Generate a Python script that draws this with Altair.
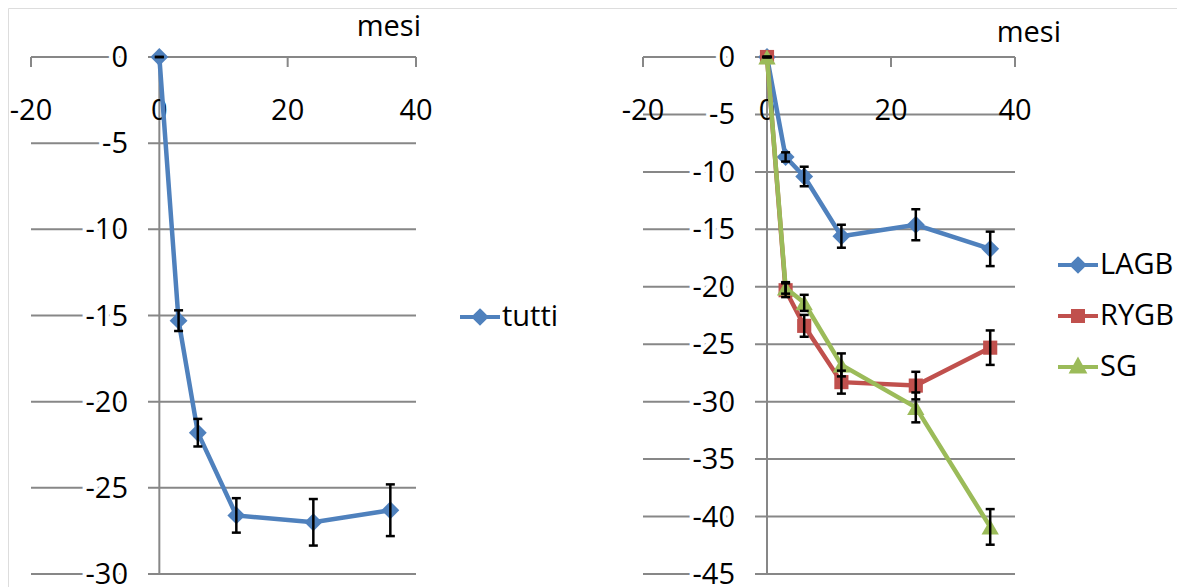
import altair as alt
import pandas as pd

# ---------------- data ----------------
mesi = [0, 3, 6, 12, 24, 36]

tutti = [0, -15.3, -21.8, -26.6, -27.0, -26.3]
tutti_err = [0, 0.6, 0.8, 1.0, 1.35, 1.5]

serie_names = ["LAGB", "RYGB", "SG"]
lagb = [0, -8.7, -10.4, -15.6, -14.6, -16.7]
lagb_err = [0, 0.4, 0.85, 1.0, 1.35, 1.5]
rygb = [0, -20.3, -23.4, -28.3, -28.6, -25.3]
rygb_err = [0, 0.6, 0.95, 1.0, 1.2, 1.5]
sg = [0, -20.1, -21.4, -26.8, -30.5, -40.9]
sg_err = [0, 0.5, 0.7, 1.0, 1.3, 1.55]

x_ticks = [-20, 0, 20, 40]
y_ticks_left = [0, -5, -10, -15, -20, -25, -30]
y_ticks_right = [0, -5, -10, -15, -20, -25, -30, -35, -40, -45]

BLUE, RED, GREEN = "#4F81BD", "#C0504D", "#9BBB59"
GRID = "#878787"
FONT = "Open Sans"
FS = 29


def series_df(name, vals, errs):
    return pd.DataFrame({
        "mesi": mesi, "v": vals,
        "lo": [v - e for v, e in zip(vals, errs)],
        "hi": [v + e for v, e in zip(vals, errs)],
        "serie": name,
    })


def panel(series, ydom, xrange, yrange, yticks, label_right, mesi_pos, legend_pos):
    xs = alt.Scale(domain=[-20, 40], range=xrange, nice=False, zero=False)
    ys = alt.Scale(domain=ydom, range=yrange, nice=False, zero=False)
    X = lambda f: alt.X(f, type="quantitative", scale=xs, axis=None)
    Y = lambda f: alt.Y(f, type="quantitative", scale=ys, axis=None)

    grid_df = pd.DataFrame({"v": yticks, "x1": -20, "x2": 40})
    grid = alt.Chart(grid_df).mark_rule(color=GRID, strokeWidth=2).encode(
        x=X("x1"), x2="x2", y=Y("v"))
    vaxis = alt.Chart(pd.DataFrame({"x": [0], "y1": [ydom[0]], "y2": [0]})).mark_rule(
        color=GRID, strokeWidth=2).encode(x=X("x"), y=Y("y1"), y2="y2")
    xt = alt.Chart(pd.DataFrame({"t": x_ticks})).mark_rule(color=GRID, strokeWidth=2).encode(
        x=X("t"), y=alt.value(yrange[1]), y2=alt.value(yrange[1] + 10))
    # white gap between y labels and axis
    gap = alt.Chart(grid_df).mark_rule(color="white", strokeWidth=6).encode(
        x=alt.value(label_right), x2=alt.value(label_right + 20), y=Y("v"))
    ylab_df = pd.DataFrame({"v": yticks, "lab": [str(t) for t in yticks]})
    ylab_halo = alt.Chart(ylab_df).mark_text(
        font=FONT, fontSize=FS, align="right", baseline="alphabetic", dy=10,
        stroke="white", strokeWidth=8, color="white").encode(
        x=alt.value(label_right), y=Y("v"), text="lab:N")
    ylab = alt.Chart(ylab_df).mark_text(
        font=FONT, fontSize=FS, align="right", baseline="alphabetic", dy=10,
        color="black").encode(x=alt.value(label_right), y=Y("v"), text="lab:N")
    xlab = alt.Chart(pd.DataFrame({"t": x_ticks, "lab": [str(t) for t in x_ticks]})).mark_text(
        font=FONT, fontSize=FS, align="center", baseline="alphabetic", color="black").encode(
        x=X("t"), y=alt.value(112), text="lab:N")
    mesi_t = alt.Chart(pd.DataFrame({"lab": ["mesi"]})).mark_text(
        font=FONT, fontSize=FS, align="right", baseline="alphabetic", color="black").encode(
        x=alt.value(mesi_pos[0]), y=alt.value(mesi_pos[1]), text="lab:N")

    layers = [grid, vaxis, xt, gap, ylab_halo, ylab, xlab, mesi_t]

    names = [s[0] for s in series]
    colors = [s[3] for s in series]
    paths = [s[4] for s in series]
    for name, df, shape, color, _, size in series:
        base = alt.Chart(df)
        layers.append(base.mark_line(color=color, strokeWidth=4.5).encode(x=X("mesi"), y=Y("v")))
        layers.append(base.mark_point(filled=True, opacity=1, shape=shape, size=size,
                                      color=color).encode(x=X("mesi"), y=Y("v")))
    for name, df, shape, color, _, size in series:
        base = alt.Chart(df)
        layers.append(base.mark_rule(color="black", strokeWidth=2.5).encode(
            x=X("mesi"), y=Y("lo"), y2="hi"))
        layers.append(base.mark_tick(orient="horizontal", color="black", size=9,
                                     thickness=2.5, opacity=1).encode(x=X("mesi"), y=Y("lo")))
        layers.append(base.mark_tick(orient="horizontal", color="black", size=9,
                                     thickness=2.5, opacity=1).encode(x=X("mesi"), y=Y("hi")))

    leg = alt.Legend(orient="none", legendX=legend_pos[0], legendY=legend_pos[1], title=None,
                     labelFont=FONT, labelFontSize=FS, labelColor="black",
                     symbolSize=1600, symbolStrokeWidth=4, labelOffset=0, rowPadding=14)
    legend_layer = alt.Chart(pd.DataFrame({"serie": names})).transform_filter("false").mark_point(
        filled=True, opacity=1, size=1600, strokeWidth=4).encode(
        fill=alt.Fill("serie:N", scale=alt.Scale(domain=names, range=colors), legend=leg),
        stroke=alt.Stroke("serie:N", scale=alt.Scale(domain=names, range=colors), legend=leg),
        shape=alt.Shape("serie:N", scale=alt.Scale(domain=names, range=paths), legend=leg),
    )
    layers.append(legend_layer)
    return alt.layer(*layers)


P_DIAMOND = "M-1,0L1,0M0,-0.3L0.3,0L0,0.3L-0.3,0Z"
P_SQUARE = "M-1,0L1,0M-0.25,-0.25L0.25,-0.25L0.25,0.25L-0.25,0.25Z"
P_TRI = "M-1,0L1,0M0,-0.32L0.3,0.22L-0.3,0.22Z"

left = panel(
    [("tutti", series_df("tutti", tutti, tutti_err), "diamond", BLUE, P_DIAMOND, 320)],
    [-30, 0], [23, 408], [566, 49], y_ticks_left, 120, (413, 28), (450, 287))

right = panel(
    [("LAGB", series_df("LAGB", lagb, lagb_err), "diamond", BLUE, P_DIAMOND, 320),
     ("RYGB", series_df("RYGB", rygb, rygb_err), "square", RED, P_SQUARE, 200),
     ("SG", series_df("SG", sg, sg_err), "triangle-up", GREEN, P_TRI, 300)],
    [-45, 0], [635, 1007], [566, 49], y_ticks_right, 727, (1053, 34), (1048, 235))

chart = alt.layer(left, right).resolve_scale(
    x="independent", y="independent", fill="independent",
    stroke="independent", shape="independent"
).properties(
    width=1169, height=579, padding=0,
    autosize=alt.AutoSizeParams(type="none"),
).configure_view(strokeWidth=0, stroke=None, fill="white").configure(background="white")

chart.save("out.html", embed_options={"renderer": "svg", "actions": False})
